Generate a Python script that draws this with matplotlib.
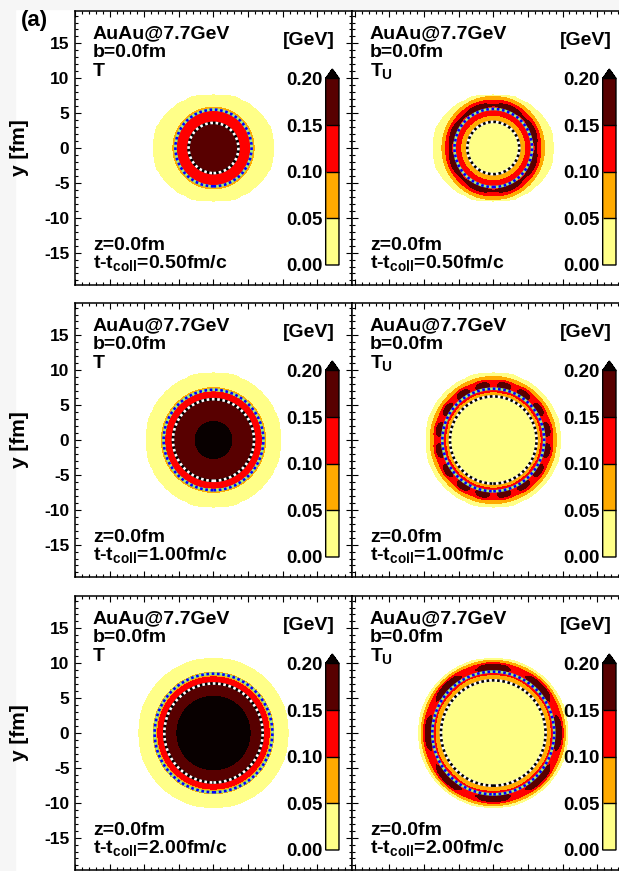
import numpy as np
import matplotlib
matplotlib.use("Agg")
import matplotlib.pyplot as plt
from matplotlib.cm import ScalarMappable
from matplotlib.colors import BoundaryNorm, ListedColormap
from matplotlib.patches import Circle, Rectangle
from matplotlib.ticker import MultipleLocator

plt.rcParams["font.family"] = ["Liberation Sans", "DejaVu Sans"]
plt.rcParams["font.weight"] = "bold"
plt.rcParams["axes.unicode_minus"] = False
plt.rcParams["mathtext.fontset"] = "custom"
plt.rcParams["mathtext.rm"] = "Liberation Sans:bold"
plt.rcParams["mathtext.it"] = "Liberation Sans:bold"
plt.rcParams["mathtext.bf"] = "Liberation Sans:bold"

# ---- data ----
times = ["0.50", "1.00", "2.00"]
levels = [0.00, 0.05, 0.10, 0.15, 0.20]
level_colors = ["#ffff88", "#ffaa00", "#ff0000", "#580000"]
over_color = "#080000"

# extent of the matter region (half-width, half-height) in fm
matter_half_x = [8.8, 9.8, 10.85]
matter_half_y = [7.75, 9.7, 10.75]

# T: radial knots (fm) and temperatures (GeV)
T_radii = [
    [0.0, 3.6, 5.25, 5.85, 7.0],
    [0.0, 2.65, 5.85, 6.9, 7.5, 9.0],
    [0.0, 5.3, 7.15, 8.05, 8.7, 10.0],
]
T_values = [
    [0.19, 0.15, 0.10, 0.05, 0.02],
    [0.22, 0.20, 0.15, 0.10, 0.05, 0.02],
    [0.22, 0.20, 0.15, 0.10, 0.05, 0.02],
]
T_inner_circle = [3.6, 5.85, 7.1]
T_outer_circle = [5.5, 7.2, 8.5]

# T_U: radial knots, temperatures and the lumpy outer shell
TU_radii = [
    [0.0, 3.7, 4.7, 5.85, 6.15, 6.45, 6.9, 7.4, 8.5],
    [0.0, 6.2, 6.9, 7.2, 7.5, 7.85, 8.2, 8.6, 9.1, 9.6],
    [0.0, 7.5, 8.4, 8.7, 8.95, 9.35, 9.75, 10.05, 10.4, 11.0],
]
TU_values = [
    [0.02, 0.05, 0.10, 0.15, 0.165, 0.15, 0.10, 0.05, 0.02],
    [0.02, 0.05, 0.10, 0.12, 0.15, 0.165, 0.15, 0.10, 0.05, 0.02],
    [0.02, 0.05, 0.10, 0.12, 0.15, 0.168, 0.15, 0.10, 0.05, 0.02],
]
TU_lobes = [8, 16, 8]
TU_lobe_amp = [0.01, 0.03, 0.03]
TU_lobe_phase = [22.5, 11.25, 0.0]
TU_inner_circle = [3.75, 6.25, 7.55]
TU_outer_circle = [5.6, 7.35, 8.8]

W, H = 619, 871
fig = plt.figure(figsize=(W / 100, H / 100), dpi=100)
fig.patches.append(Rectangle((0, 0), 15 / W, 1, transform=fig.transFigure, color="#f6f6f6", zorder=-5))
fig.patches.append(Rectangle((0, 1 - 9 / H), 1, 9 / H, transform=fig.transFigure, color="#f6f6f6", zorder=-5))

xf = np.linspace(-21, 21, 621)
XF, YF = np.meshgrid(xf, xf)
RF = np.hypot(XF, YF)
PHI = np.arctan2(YF, XF)
xc = np.arange(-21, 22, 1.0)
XC, YC = np.meshgrid(xc, xc)

cmap = ListedColormap(level_colors)
cmap.set_over(over_color)
norm = BoundaryNorm(levels, cmap.N)

row_tops = [11, 303, 596]
col_lefts = [75, 352]
col_xlim = [(-20.0, 20.0), (-20.4, 19.6)]
pw, ph = 277, 274


def radial_field(radii, values, lobes=0, amp=0.0, phase=0.0):
    t = np.interp(RF, radii, values)
    if amp:
        peak = radii[int(np.argmax(values))]
        t = t + amp * np.cos(lobes * (PHI - np.deg2rad(phase))) * np.exp(-((RF - peak) / 0.6) ** 2)
    return t


def dotted_circle(ax, r, base, dots):
    ax.add_patch(Circle((0, 0), r, fill=False, ec=base, lw=1.9, zorder=4))
    ax.add_patch(Circle((0, 0), r, fill=False, ec=dots, lw=1.9, ls=(0, (1.0, 1.0)), zorder=5))


for row in range(3):
    for col in range(2):
        left = col_lefts[col] / W
        bottom = 1 - (row_tops[row] + ph) / H
        ax = fig.add_axes([left, bottom, pw / W, ph / H])
        ax.set_xlim(*col_xlim[col])
        ax.set_ylim(-19.65, 19.65)

        # matter region on the coarse grid
        ell = np.sqrt((XC / matter_half_x[row]) ** 2 + (YC / matter_half_y[row]) ** 2)
        ax.contourf(XC, YC, np.clip(1 - ell, -0.05, 0.05), levels=[0, 1], colors=[level_colors[0]], zorder=1)

        if col == 0:
            field = radial_field(T_radii[row], T_values[row])
        else:
            field = radial_field(TU_radii[row], TU_values[row], TU_lobes[row], TU_lobe_amp[row], TU_lobe_phase[row])
        ax.contourf(XF, YF, field, levels=levels[1:] + [1.0],
                    colors=level_colors[1:] + [over_color], zorder=2)

        if col == 0:
            dotted_circle(ax, T_inner_circle[row], "black", "white")
            dotted_circle(ax, T_outer_circle[row], "#99ee88", "#0000ff")
        else:
            dotted_circle(ax, TU_inner_circle[row], "white", "black")
            dotted_circle(ax, TU_outer_circle[row], "#99ee88", "#0000ff")

        ax.xaxis.set_major_locator(MultipleLocator(5))
        ax.xaxis.set_minor_locator(MultipleLocator(1))
        ax.yaxis.set_major_locator(MultipleLocator(5))
        ax.yaxis.set_minor_locator(MultipleLocator(1))
        ax.tick_params(which="both", direction="in", top=True, right=True, width=0.8,
                       labelbottom=False, labelleft=(col == 0), labelsize=12.5, pad=4)
        ax.tick_params(which="major", length=4.3)
        ax.tick_params(which="minor", length=2.4)
        for spine in ax.spines.values():
            spine.set_linewidth(1.1)
        if col == 0:
            ax.set_yticks([-15, -10, -5, 0, 5, 10, 15])
            ax.set_ylabel("y [fm]", fontsize=15, fontweight="bold")
            ax.yaxis.set_label_coords(-0.165, 0.5)

        txt = dict(transform=ax.transAxes, fontsize=14, fontweight="bold", ha="left", va="baseline", zorder=6)
        ax.text(0.065, 0.901, "AuAu@7.7GeV", **txt)
        ax.text(0.065, 0.832, "b=0.0fm", **txt)
        ax.text(0.065, 0.763, "T" if col == 0 else r"$T_U$", **txt)
        ax.text(0.065, 0.128, "z=0.0fm", **txt)
        ax.text(0.065, 0.062, r"t-t$_{coll}$=" + times[row] + "fm/c", **txt)
        ax.text(0.939, 0.876, "[GeV]", **{**txt, "ha": "right"})

        cax = ax.inset_axes([0.905, 0.073, 0.048, 0.715])
        cb = fig.colorbar(ScalarMappable(norm=norm, cmap=cmap), cax=cax, extend="max",
                          extendfrac=0.05, drawedges=True, ticks=levels)
        cb.outline.set_linewidth(1.0)
        cb.dividers.set_linewidth(1.0)
        cax.yaxis.set_ticks_position("left")
        cax.yaxis.set_label_position("left")
        cax.tick_params(length=0, pad=2, labelsize=13.5)
        cax.set_yticklabels([f"{v:.2f}" for v in levels])

fig.text(21 / W, 1 - 10 / H, "(a)", fontsize=16, fontweight="bold", ha="left", va="top")

fig.savefig("out.png", dpi=100)
